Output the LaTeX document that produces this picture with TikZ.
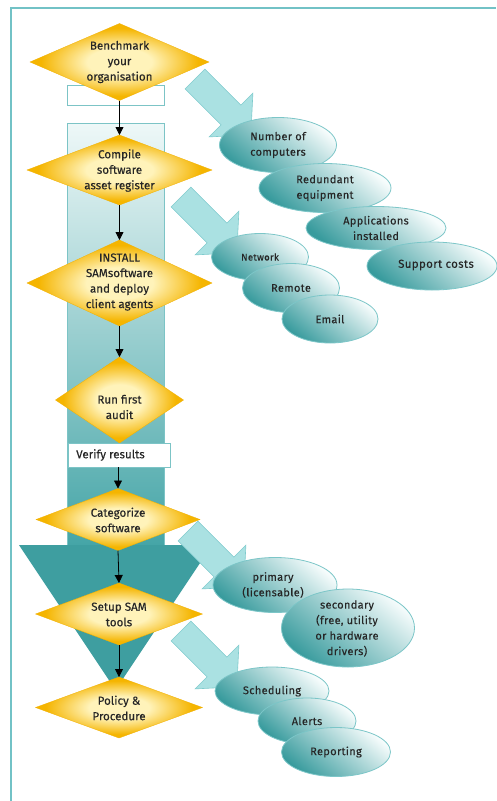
\documentclass[tikz,border=0pt]{standalone}
\usepackage{fontspec}
\setmainfont{Fira Sans}
\newfontfamily\ovfont[LetterSpace=3,FakeBold=0.2]{Fira Sans}
\newfontfamily\diafont[FakeBold=0.25]{Fira Sans}
\usetikzlibrary{shapes.geometric,arrows.meta}
\definecolor{frameC}{HTML}{72C2C6}
\definecolor{txtC}{HTML}{262626}
\definecolor{diaI}{HTML}{FFF3BA}
\definecolor{diaO}{HTML}{F5B500}
\definecolor{diaE}{HTML}{F2B000}
\definecolor{colTop}{HTML}{EEF8F8}
\definecolor{colBot}{HTML}{45A5A7}
\definecolor{colEdge}{HTML}{7CC4C6}
\definecolor{headC}{HTML}{3E9EA0}
\definecolor{ovDark}{HTML}{389B9D}
\definecolor{ovLight}{HTML}{F6FCFC}
\definecolor{ovEdge}{HTML}{7CC6C8}
\definecolor{fatFill}{HTML}{AAE1E2}
\definecolor{fatEdge}{HTML}{7FCBCD}
\pgfdeclareradialshading{diashade}{\pgfpoint{0bp}{0bp}}{color(0bp)=(diaI); color(9bp)=(diaI); color(22bp)=(diaO); color(50bp)=(diaO)}
\newcommand{\fatarrow}[1]{\path[fatarr, shift={#1}] (9.9,-9.9) -- (45.9,26.1) -- (57.9,14.1) -- (55.8,55.8) -- (14.1,57.9) -- (26.1,45.9) -- (-9.9,9.9) -- cycle;}
\begin{document}
\begin{tikzpicture}[x=1pt,y=-1pt,
  dia/.style={diamond, inner sep=0pt, outer sep=0pt, draw=diaE, line width=0.3pt, shading=diashade},
  dtext/.style={align=center, inner sep=0pt, text=txtC, font=\diafont\fontsize{11.6}{15.5}\selectfont},
  oval/.style={ellipse, inner sep=0pt, draw=ovEdge, line width=0.8pt, shading=axis, top color=ovLight, bottom color=ovDark, shading angle=-40},
  otext/.style={align=center, inner sep=0pt, text=txtC, font=\ovfont\fontsize{11}{15.5}\selectfont},
  wbox/.style={rectangle, inner sep=0pt, draw=colEdge, line width=0.8pt, fill=white},
  colshaft/.style={rectangle, inner sep=0pt, draw=colEdge, line width=0.8pt, shading=axis, top color=colTop, bottom color=colBot},
  fatarr/.style={fill=fatFill, draw=fatEdge, line width=0.6pt},
  flow/.style={draw=black, line width=0.8pt, -{Triangle[width=8pt,length=8pt]}},
  frame/.style={draw=frameC, line width=1.3pt}
]
\useasboundingbox (0,0) rectangle (496,801);
\fill[white] (0,0) rectangle (496,801);
\draw[frame] (11,801) -- (11,8) -- (496,8);

% big column arrow
\node[colshaft, minimum width=97, minimum height=422] (col) at (115.5,334) {};
\coordinate (hl) at (19,545);
\coordinate (hr) at (212,545);
\coordinate (ht) at (115.5,690);
\fill[headC] (hl) -- (hr) -- (ht) -- cycle;
\node[wbox, minimum width=97, minimum height=20] (r0) at (115.5,95) {};

% light wide arrows
\fatarrow{(195,79)}
\fatarrow{(181,197)}
\fatarrow{(188,531)}
\fatarrow{(181,631)}

% ellipses
\node[oval, minimum width=117, minimum height=55] (e1) at (278,145) {};
\node[otext] (e1t) at (e1) {Number of\\computers};
\node[oval, minimum width=132, minimum height=49] (e2) at (325,188) {};
\node[otext] (e2t) at (e2) {Redundant\\equipment};
\node[oval, minimum width=140, minimum height=43] (e3) at (376,228) {};
\node[otext] (e3t) at (e3) {Applications\\installed};
\node[oval, minimum width=130, minimum height=48] (e4) at (432,266) {};
\node[otext, font=\ovfont\fontsize{11.5}{15}\selectfont] (e4t) at (436,265) {Support costs};
\node[oval, minimum width=97, minimum height=47] (e5) at (260,257) {};
\node[otext, font=\ovfont\fontsize{9.5}{13}\selectfont] (e5t) at (e5) {Network};
\node[oval, minimum width=97, minimum height=49] (e6) at (291,288) {};
\node[otext] (e6t) at (e6) {Remote};
\node[oval, minimum width=96, minimum height=48] (e7) at (330,319) {};
\node[otext] (e7t) at (e7) {Email};
\node[oval, minimum width=124, minimum height=55] (e8) at (275,585) {};
\node[otext] (e8t) at (273,585) {primary\\(licensable)};
\node[oval, minimum width=133, minimum height=78] (e9) at (348,628) {};
\node[otext] (e9t) at (347,628.5) {secondary\\(free, utility\\or hardware\\drivers)};
\node[oval, minimum width=114, minimum height=48] (e10) at (272,691) {};
\node[otext] (e10t) at (e10) {Scheduling};
\node[oval, minimum width=98, minimum height=46] (e11) at (307,721) {};
\node[otext] (e11t) at (e11) {Alerts};
\node[oval, minimum width=109, minimum height=49] (e12) at (336,752) {};
\node[otext] (e12t) at (e12) {Reporting};

% diamonds
\node[dia, minimum width=179, minimum height=77] (d1) at (119.5,62) {};
\node[dtext] (d1t) at (119.5,62) {Benchmark\\your\\organisation};
\node[dia, minimum width=185, minimum height=70] (d2) at (119.5,170) {};
\node[dtext] (d2t) at (119.5,170.5) {Compile\\software\\asset register};
\node[dia, minimum width=185, minimum height=86] (d3) at (119.5,283) {};
\node[dtext] (d3t) at (119.5,282) {INSTALL\\SAMsoftware\\and deploy\\client agents};
\node[dia, minimum width=128, minimum height=86] (d4) at (119.5,400) {};
\node[dtext] (d4t) at (119.5,407) {Run first\\audit};
\node[wbox, minimum width=102, minimum height=24] (v) at (119,455) {};
\node[dtext, anchor=west] (vt) at (76,455) {Verify results};
\node[dia, minimum width=164, minimum height=62] (d5) at (118,519.5) {};
\node[dtext] (d5t) at (118,520) {Categorize\\software};
\node[dia, minimum width=167, minimum height=62] (d6) at (119,614) {};
\node[dtext] (d6t) at (119,614.5) {Setup SAM\\tools};
\node[dia, minimum width=167, minimum height=61] (d7) at (119,707.5) {};
\node[dtext] (d7t) at (119,708) {Policy \&\\Procedure};

% flow arrows
\draw[flow] (d1.south) -- (d2.north);
\draw[flow] (d2.south) -- (d3.north);
\draw[flow] (d3.south) -- (d4.north);
\draw[flow] (v.south -| d5.north) -- (d5.north);
\draw[flow] (d5.south) -- (d6.north);
\draw[flow] (d6.south) -- (d7.north);
\end{tikzpicture}
\end{document}
